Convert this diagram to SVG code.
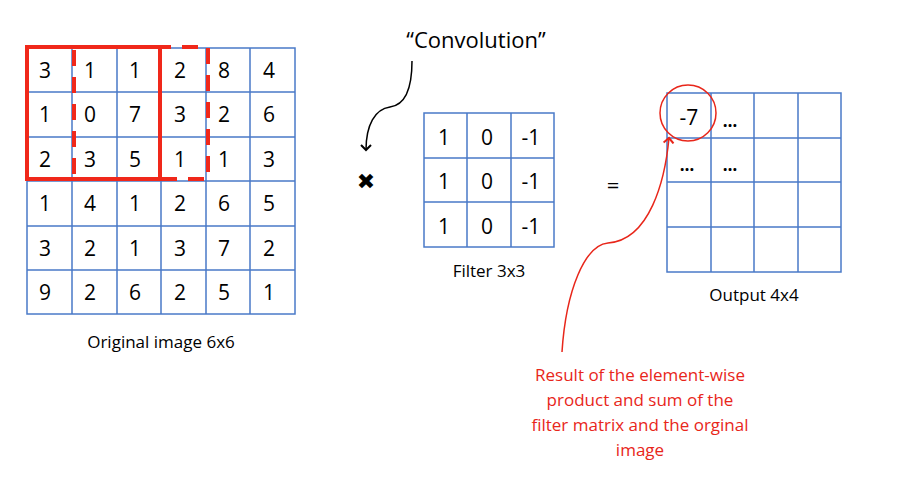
<svg xmlns="http://www.w3.org/2000/svg" width="900" height="480" viewBox="0 0 900 480">
<style>
.g{fill:none;stroke:#4a7ac8;stroke-width:1.5}
.n{font-family:"Open Sans","Liberation Sans",sans-serif;font-size:21px;fill:#000;text-anchor:middle}
.l{font-family:"Open Sans","Liberation Sans",sans-serif;font-size:17px;fill:#000;text-anchor:middle}
.d{font-family:"Open Sans","Liberation Sans",sans-serif;font-size:17px;font-weight:bold;fill:#000;text-anchor:middle}
.r{font-family:"Open Sans","Liberation Sans",sans-serif;font-size:17px;fill:#e8261a;text-anchor:middle}
</style>
<defs>
<marker id="ab" markerWidth="12" markerHeight="12" refX="6" refY="6" orient="auto" markerUnits="userSpaceOnUse"><path d="M1,1 L6,6 L1,11" fill="none" stroke="#000" stroke-width="2"/></marker>
<marker id="ar" markerWidth="12" markerHeight="12" refX="6" refY="6" orient="auto" markerUnits="userSpaceOnUse"><path d="M1,1 L6,6 L1,11" fill="none" stroke="#e8261a" stroke-width="2"/></marker>
</defs>
<rect width="900" height="480" fill="#fff"/>
<g id="image6x6">
<rect class="g" x="27" y="48" width="268" height="266"/>
<path class="g" d="M72,48V314M117,48V314M161,48V314M206,48V314M250,48V314M27,92H295M27,137H295M27,181H295M27,226H295M27,270H295"/>
<g class="n">
<text x="45" y="78">3</text><text x="90" y="78">1</text><text x="135" y="78">1</text><text x="180" y="78">2</text><text x="224" y="78">8</text><text x="269" y="78">4</text>
<text x="45" y="122">1</text><text x="90" y="122">0</text><text x="135" y="122">7</text><text x="180" y="122">3</text><text x="224" y="122">2</text><text x="269" y="122">6</text>
<text x="45" y="167">2</text><text x="90" y="167">3</text><text x="135" y="167">5</text><text x="180" y="167">1</text><text x="224" y="167">1</text><text x="269" y="167">3</text>
<text x="45" y="211">1</text><text x="90" y="211">4</text><text x="135" y="211">1</text><text x="180" y="211">2</text><text x="224" y="211">6</text><text x="269" y="211">5</text>
<text x="45" y="256">3</text><text x="90" y="256">2</text><text x="135" y="256">1</text><text x="180" y="256">3</text><text x="224" y="256">7</text><text x="269" y="256">2</text>
<text x="45" y="300">9</text><text x="90" y="300">2</text><text x="135" y="300">6</text><text x="180" y="300">2</text><text x="224" y="300">5</text><text x="269" y="300">1</text>
</g>
<rect x="74" y="47" width="134" height="132" fill="none" stroke="#f0281a" stroke-width="4" stroke-dasharray="16,11"/>
<rect x="27" y="47" width="133" height="132" fill="none" stroke="#f0281a" stroke-width="4"/>
<text class="l" x="161" y="348">Original image 6x6</text>
</g>
<g id="filter3x3">
<rect class="g" x="424" y="113" width="130" height="134"/>
<path class="g" d="M467,113V247M511,113V247M424,158H554M424,202H554"/>
<g class="n">
<text x="444" y="145">1</text><text x="487" y="145">0</text><text x="531" y="145">-1</text>
<text x="444" y="189">1</text><text x="487" y="189">0</text><text x="531" y="189">-1</text>
<text x="444" y="234">1</text><text x="487" y="234">0</text><text x="531" y="234">-1</text>
</g>
<text class="l" x="489" y="277">Filter 3x3</text>
</g>
<g id="output4x4">
<rect class="g" x="667" y="93" width="174" height="179"/>
<path class="g" d="M711,93V272M754,93V272M798,93V272M667,138H841M667,182H841M667,227H841"/>
<text class="n" x="689" y="125" font-size="19">-7</text>
<text class="d" x="730" y="127">…</text>
<text class="d" x="687" y="171">…</text>
<text class="d" x="730" y="171">…</text>
<circle cx="688" cy="113" r="28" fill="none" stroke="#e8261a" stroke-width="1.5"/>
<text class="l" x="754" y="301">Output 4x4</text>
</g>
<g id="operators">
<text x="476" y="48" font-family="'Open Sans','Liberation Sans',sans-serif" font-size="22" text-anchor="middle">“Convolution”</text>
<text x="366" y="189" font-family="'DejaVu Sans',sans-serif" font-size="22" font-weight="bold" text-anchor="middle">✖</text>
<text x="613" y="193" font-family="'Open Sans','Liberation Sans',sans-serif" font-size="22" text-anchor="middle">=</text>
</g>
<g id="connectors">
<path d="M412,61 C412,90 405,105 390,107 C375,109 366,125 366,150" fill="none" stroke="#000" stroke-width="1.5" marker-end="url(#ab)"/>
<path d="M562,352 C566,290 585,245 608,243 C650,240 665,180 669,138" fill="none" stroke="#e8261a" stroke-width="1.5" marker-end="url(#ar)"/>
</g>
<g id="note">
<text class="r" x="640" y="381">Result of the element-wise</text>
<text class="r" x="640" y="406">product and sum of the</text>
<text class="r" x="640" y="431">filter matrix and the orginal</text>
<text class="r" x="640" y="456">image</text>
</g>
</svg>
